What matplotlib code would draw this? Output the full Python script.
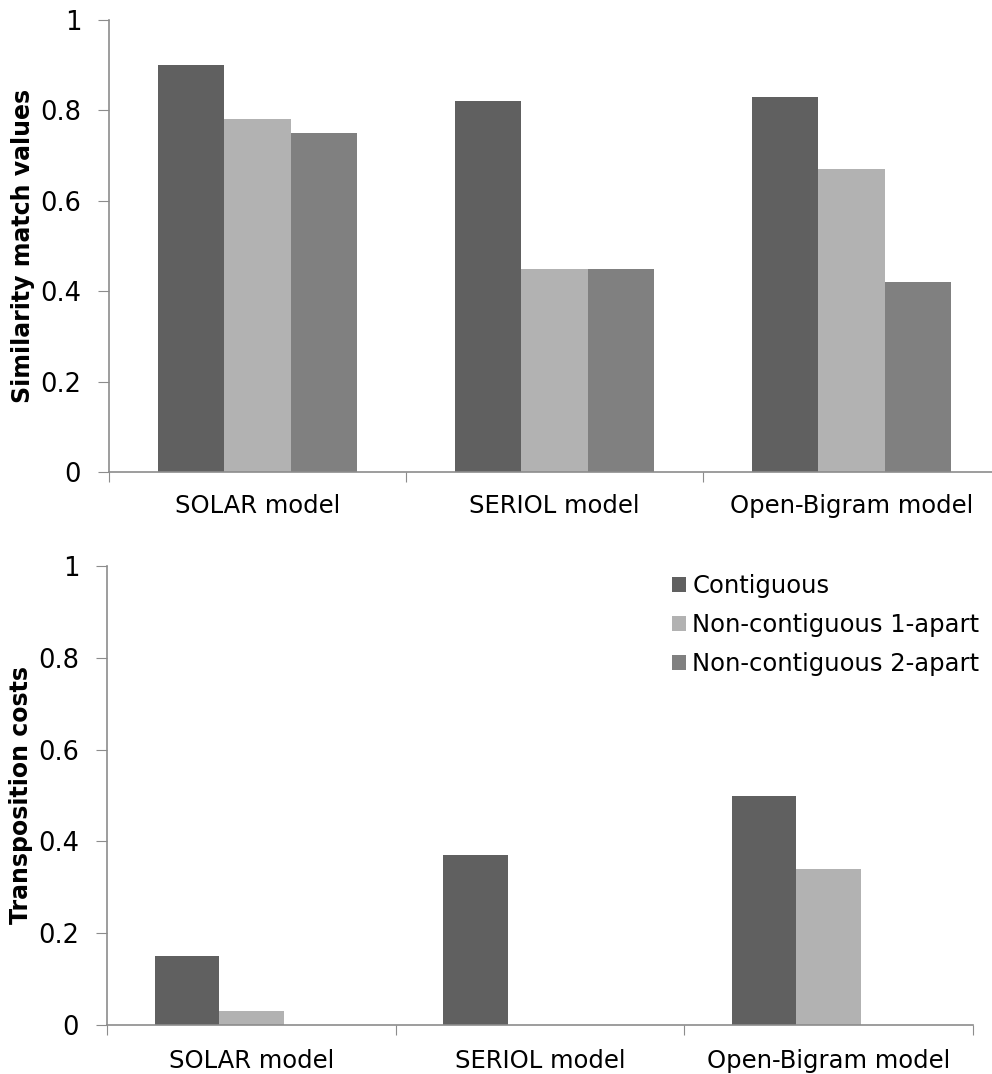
import numpy as np
import matplotlib.pyplot as plt

models = ["SOLAR model", "SERIOL model", "Open-Bigram model"]
series = ["Contiguous", "Non-contiguous 1-apart", "Non-contiguous 2-apart"]
colors = ["#606060", "#b2b2b2", "#808080"]

similarity = {
    "Contiguous": [0.90, 0.82, 0.83],
    "Non-contiguous 1-apart": [0.78, 0.45, 0.67],
    "Non-contiguous 2-apart": [0.75, 0.45, 0.42],
}
costs = {
    "Contiguous": [0.15, 0.37, 0.50],
    "Non-contiguous 1-apart": [0.03, 0.0, 0.34],
    "Non-contiguous 2-apart": [0.0, 0.0, 0.0],
}

W, H = 992, 1074
fig = plt.figure(figsize=(W / 100, H / 100), dpi=100)
axis_col = "#8c8c8c"


def draw(ax, data, ylabel, xpad):
    x = np.arange(len(models))
    bw = 0.223
    for i, s in enumerate(series):
        ax.bar(x + 0.5 + (i - 1) * bw, data[s], bw, color=colors[i],
               label=s, linewidth=0)
    ax.set_xlim(0, 3)
    ax.set_ylim(0, 1)
    ax.set_yticks([0, 0.2, 0.4, 0.6, 0.8, 1])
    ax.set_yticklabels(["0", "0.2", "0.4", "0.6", "0.8", "1"])
    ax.set_xticks([0, 1, 2, 3])
    ax.set_xticklabels([])
    ax.set_xticks(x + 0.5, minor=True)
    ax.set_xticklabels(models, minor=True)
    ax.tick_params(axis="x", which="minor", length=0, pad=xpad, labelsize=17.5)
    ax.tick_params(axis="x", which="major", length=7, color=axis_col,
                   direction="out")
    ax.tick_params(axis="y", length=8, color=axis_col, labelsize=18.5, pad=12)
    for sp in ["top", "right"]:
        ax.spines[sp].set_visible(False)
    for sp in ["left", "bottom"]:
        ax.spines[sp].set_color(axis_col)
        ax.spines[sp].set_linewidth(1.2)
    ax.set_ylabel(ylabel, fontsize=17, fontweight="bold", labelpad=4)


ax1 = fig.add_axes([109 / W, 1 - 472 / H, 891 / W, 452 / H])
draw(ax1, similarity, "Similarity match values", 16)

ax2 = fig.add_axes([107 / W, 1 - 1025 / H, 866 / W, 459 / H])
draw(ax2, costs, "Transposition costs", 17)
ax2.legend(loc="upper left", bbox_to_anchor=(0.652, 0.983), frameon=False,
           fontsize=17.5, handlelength=0.6, handleheight=0.6, borderpad=0,
           borderaxespad=0, handletextpad=0.25, labelspacing=0.62)

fig.savefig("out.png", dpi=100)
